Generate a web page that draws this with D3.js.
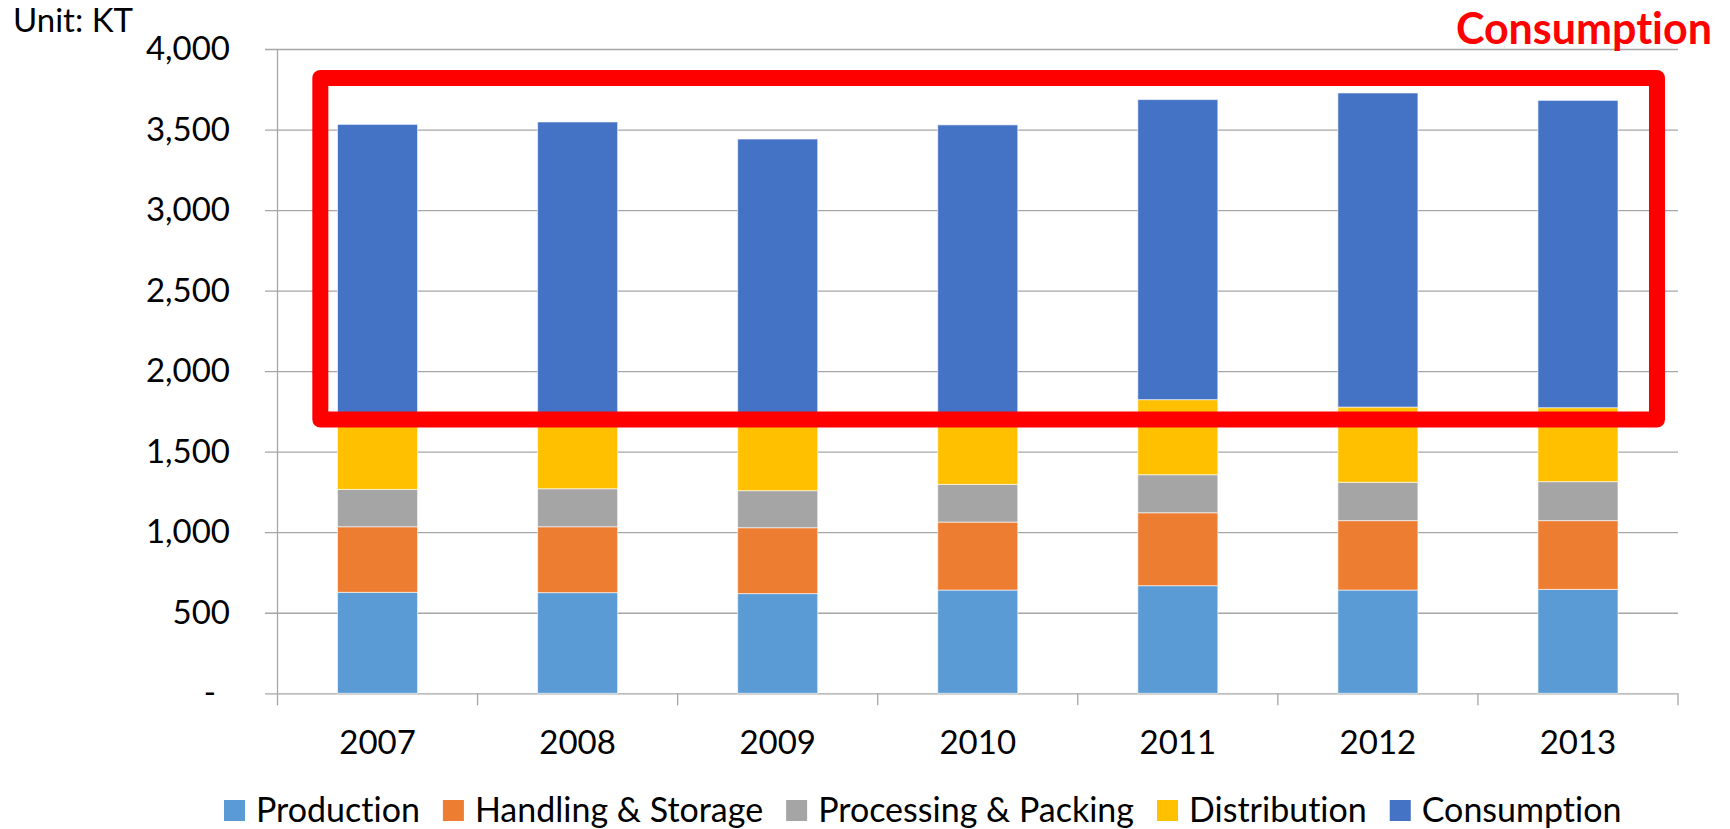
<!DOCTYPE html>
<html>
<head>
<meta charset="utf-8">
<script src="https://cdn.jsdelivr.net/npm/d3@7"></script>
<style>
  html, body { margin: 0; padding: 0; background: #fff; overflow: hidden; }
  svg text {
    font-family: Lato, "Liberation Sans", Arial, sans-serif;
    font-variant-ligatures: none;
    fill: #000;
  }
</style>
</head>
<body>
<div id="chart"></div>
<script>

  /**************************************************
   * Data                                           *
   **************************************************/

  var years = ['2007', '2008', '2009', '2010', '2011', '2012', '2013'];
  var seriesNames = ['Production', 'Handling & Storage', 'Processing & Packing', 'Distribution', 'Consumption'];

  var production   = [627, 625, 619, 641, 668, 641, 645];
  var handling     = [407, 409, 409, 422, 453, 431, 427];
  var processing   = [232, 236, 230, 234, 236, 238, 242];
  var distribution = [434, 435, 432, 413, 466, 467, 459];
  var consumption  = [1832, 1842, 1751, 1819, 1863, 1950, 1908];

  var yTicks = [0, 500, 1000, 1500, 2000, 2500, 3000, 3500, 4000];

  // value range the red highlight box is drawn around
  var highlightRange = [1700, 3820];

window.onload = function() {

  /**************************************************
   * Global Variables                               *
   **************************************************/

  var width = 1730,
    height = 829;

  var options = {
    plotLeft: 277.5,
    plotRight: 1678,
    plotTop: 49,
    plotBottom: 693.3,
    tickStart: 265,
    gridColor: '#A6A6A6',
    fontSize: 33,
    colors: ['#5B9BD5', '#ED7D31', '#A5A5A5', '#FFC000', '#4472C4'],
    highlightColor: '#FF0000'
  };

  var svg = d3.select('#chart').append('svg')
    .attr('width', width)
    .attr('height', height);

  // one row per year, one key per series
  var table = years.map(function(year, i) {
    var row = { year: year };
    row[seriesNames[0]] = production[i];
    row[seriesNames[1]] = handling[i];
    row[seriesNames[2]] = processing[i];
    row[seriesNames[3]] = distribution[i];
    row[seriesNames[4]] = consumption[i];
    return row;
  });

  var stacked = d3.stack().keys(seriesNames)(table);

  var x = d3.scaleBand()
    .domain(years)
    .range([options.plotLeft, options.plotRight])
    .paddingInner(0.6)
    .paddingOuter(0.3);

  var y = d3.scaleLinear()
    .domain([0, 4000])
    .range([options.plotBottom, options.plotTop]);

  var color = d3.scaleOrdinal().domain(seriesNames).range(options.colors);

  /**************************************************
   * Grid & Axes                                    *
   **************************************************/

  var yAxis = svg.append('g')
    .attr('transform', 'translate(' + options.tickStart + ',0)')
    .call(d3.axisLeft(y)
      .tickValues(yTicks)
      .tickSize(-(options.plotRight - options.tickStart))
      .tickPadding(35)
      .tickFormat(function(d) { return d === 0 ? '-' : d3.format(',')(d); }));

  yAxis.select('.domain').remove();
  yAxis.selectAll('.tick line')
    .attr('stroke', options.gridColor)
    .attr('stroke-width', 1.3);
  yAxis.selectAll('.tick text')
    .attr('font-size', options.fontSize)
    .attr('font-family', null)
    .attr('fill', '#000')
    .attr('dx', function(d) { return d === 0 ? -14 : 0; });

  // vertical axis line
  svg.append('line')
    .attr('x1', options.plotLeft).attr('x2', options.plotLeft)
    .attr('y1', y(4000)).attr('y2', y(0))
    .attr('stroke', options.gridColor)
    .attr('stroke-width', 1.3);

  // category tick marks sit on the band boundaries
  var gap = (x.step() - x.bandwidth()) / 2;
  var boundaries = years.map(function(d) { return x(d) - gap; });
  boundaries.push(options.plotRight);

  svg.append('g').selectAll('line')
    .data(boundaries)
    .join('line')
    .attr('x1', function(d) { return d; })
    .attr('x2', function(d) { return d; })
    .attr('y1', y(0))
    .attr('y2', y(0) + 12)
    .attr('stroke', options.gridColor)
    .attr('stroke-width', 1.3);

  var xAxis = svg.append('g')
    .attr('transform', 'translate(0,' + y(0) + ')')
    .call(d3.axisBottom(x).tickSize(0).tickPadding(37));

  xAxis.select('.domain').remove();
  xAxis.selectAll('.tick text')
    .attr('font-size', options.fontSize)
    .attr('font-family', null)
    .attr('fill', '#000');

  /**************************************************
   * Bars                                           *
   **************************************************/

  svg.append('g').selectAll('g')
    .data(stacked)
    .join('g')
    .attr('fill', function(d) { return color(d.key); })
    .selectAll('rect')
    .data(function(d) { return d; })
    .join('rect')
    .attr('x', function(d) { return x(d.data.year); })
    .attr('width', x.bandwidth())
    .attr('y', function(d) { return y(d[1]); })
    .attr('height', function(d) { return y(d[0]) - y(d[1]); })
    .attr('stroke', '#fff')
    .attr('stroke-opacity', 0.6)
    .attr('stroke-width', 1);

  /**************************************************
   * Highlight Box & Labels                         *
   **************************************************/

  var boxLeft = x(years[0]) - 17.2,
    boxRight = x(years[years.length - 1]) + x.bandwidth() + 39;

  svg.append('rect')
    .attr('x', boxLeft)
    .attr('y', y(highlightRange[1]))
    .attr('width', boxRight - boxLeft)
    .attr('height', y(highlightRange[0]) - y(highlightRange[1]))
    .attr('fill', 'none')
    .attr('stroke', options.highlightColor)
    .attr('stroke-width', 16)
    .attr('stroke-linejoin', 'round');

  svg.append('text')
    .attr('x', 1712)
    .attr('y', 44)
    .attr('text-anchor', 'end')
    .attr('font-size', 43)
    .attr('font-weight', 'bold')
    .style('fill', options.highlightColor)
    .text('Consumption');

  svg.append('text')
    .attr('x', 13)
    .attr('y', 32)
    .attr('font-size', 33)
    .text('Unit: KT');

  /**************************************************
   * Legend                                         *
   **************************************************/

  var legend = svg.append('g');
  var posX = 224;

  seriesNames.forEach(function(name) {
    legend.append('rect')
      .attr('x', posX)
      .attr('y', 800)
      .attr('width', 21)
      .attr('height', 21)
      .attr('fill', color(name));

    var label = legend.append('text')
      .attr('x', posX + 32)
      .attr('y', 821.5)
      .attr('font-size', 34)
      .text(name);

    posX = posX + 32 + label.node().getComputedTextLength() + 23;
  });

}
</script>
</body>
</html>
